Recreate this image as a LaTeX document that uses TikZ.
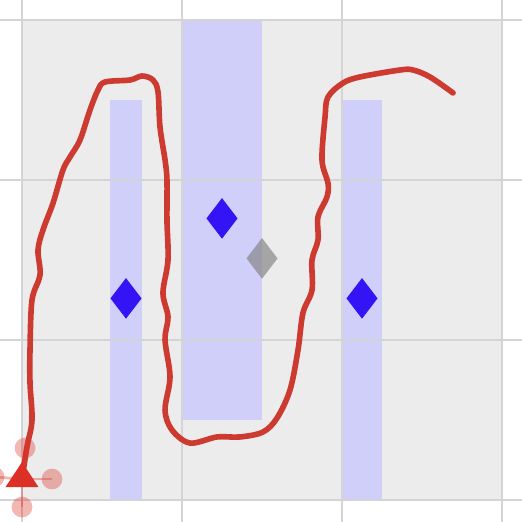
\documentclass[tikz,border=0pt]{standalone}
\usepackage{tikz}
\usetikzlibrary{shapes.geometric}
\definecolor{fieldgray}{RGB}{236,236,236}
\definecolor{gridgray}{RGB}{212,212,212}
\definecolor{zoneblue}{RGB}{207,207,250}
\definecolor{beaconblue}{RGB}{52,20,245}
\definecolor{trackred}{RGB}{205,58,48}
\definecolor{robotred}{RGB}{220,48,38}

\begin{document}
\begin{tikzpicture}[
    zone/.style={fill=zoneblue, draw=none},
    beacon/.style={diamond, fill=beaconblue, inner sep=0pt,
                   minimum width=0.2cm, minimum height=0.26cm},
    ghost/.style={beacon, fill=gray, fill opacity=0.65},
    sensor/.style={circle, fill=robotred, fill opacity=0.35,
                   inner sep=0pt, minimum size=0.13cm},
    ray/.style={robotred, opacity=0.35, line width=0.5pt},
    track/.style={trackred, line width=1pt, line join=round,
                  line cap=round}
  ]
    \useasboundingbox (-0.1375,-0.1375) rectangle (3.125,3.125);
    \fill[fieldgray] (0,0) rectangle (3,3);
    \fill[zone] (0.55,0) rectangle (0.75,2.5);
    \fill[zone] (1,0.5) rectangle (1.5,3);
    \fill[zone] (2,0) rectangle (2.25,2.5);
    \draw[gridgray, line width=0.35pt] (-0.1375,-0.1375) grid (3.125,3.125);

    \node[beacon] (b1) at (0.65,1.26) {};
    \node[beacon] (b2) at (1.25,1.76) {};
    \node[beacon] (b3) at (2.125,1.26) {};
    \node[ghost]  (g1) at (1.5,1.51) {};

    \coordinate (robot) at (0,0.131);
    \draw[track] plot[smooth, tension=0.55] coordinates {
      (robot) (0.031,0.331) (0.0625,0.5) (0.05,0.731) (0.05,0.9375)
      (0.0625,1.25) (0.1125,1.406) (0.1,1.5625) (0.131,1.6875)
      (0.194,1.856) (0.256,2.0625) (0.3,2.144) (0.3625,2.25)
      (0.425,2.4375) (0.475,2.5625) (0.519,2.6125) (0.675,2.625)
      (0.75,2.65) (0.819,2.625) (0.85,2.55) (0.8625,2.331)
      (0.894,2.125) (0.906,2.0) (0.906,1.75) (0.9125,1.5)
      (0.881,1.294) (0.9125,1.144) (0.894,1.0) (0.925,0.769)
      (0.894,0.5625) (0.9375,0.4375) (1.05,0.356) (1.219,0.394)
      (1.3625,0.394) (1.506,0.425) (1.594,0.5125) (1.675,0.6875)
      (1.725,0.9375) (1.756,1.169) (1.8125,1.3125) (1.8125,1.5)
      (1.85,1.625) (1.85,1.769) (1.906,1.894) (1.9125,1.98)
      (1.875,2.125) (1.894,2.394) (1.9125,2.519) (2.006,2.606)
      (2.1125,2.644) (2.3625,2.6875) (2.444,2.6875) (2.55,2.644)
      (2.694,2.544)};

    \node[sensor] (sN) at (0.019,0.325) {};
    \node[sensor] (sE) at (0.1875,0.131) {};
    \node[sensor] (sS) at (0,-0.044) {};
    \node[sensor] (sW) at (-0.175,0.144) {};
    \draw[ray] (robot) -- (sN.center);
    \draw[ray] (robot) -- (sE.center);
    \draw[ray] (robot) -- (sS.center);
    \draw[ray] (robot) -- (sW.center);
    \fill[robotred] (robot) ++(0,0.106) -- ++(-0.103,-0.156)
      -- ++(0.206,0) -- cycle;
  \end{tikzpicture}
\end{document}
